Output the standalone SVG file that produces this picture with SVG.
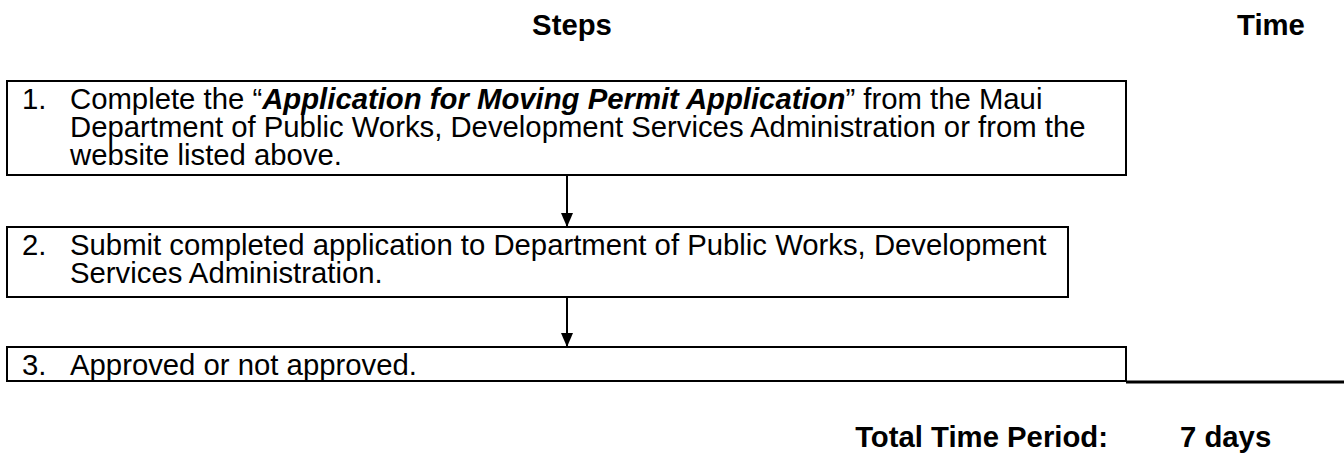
<svg xmlns="http://www.w3.org/2000/svg" width="1344" height="454" viewBox="0 0 1344 454">
<style>
.t{font-family:"Liberation Sans",Arial,sans-serif;font-size:29.3px;fill:#000}
.b{font-weight:bold}
.bi{font-weight:bold;font-style:italic}
.box{fill:#fff;stroke:#000;stroke-width:2}
.con{stroke:#000;stroke-width:2;fill:none}
</style>
<defs>
<marker id="ah" markerWidth="14" markerHeight="12" refX="14" refY="6" orient="auto" markerUnits="userSpaceOnUse">
<path d="M0,0 L14,6 L0,12 Z" fill="#000"/>
</marker>
</defs>
<rect width="1344" height="454" fill="#fff"/>
<g id="headers">
<text class="t b" x="572" y="35" text-anchor="middle">Steps</text>
<text class="t b" x="1271" y="35" text-anchor="middle">Time</text>
</g>
<g id="step1">
<rect class="box" x="7" y="81" width="1119" height="94"/>
<text class="t" x="22" y="109">1.</text>
<text class="t" x="70" y="109">Complete the “<tspan class="bi">Application for Moving Permit Application</tspan>” from the Maui</text>
<text class="t" x="70" y="137">Department of Public Works, Development Services Administration or from the</text>
<text class="t" x="70" y="165">website listed above.</text>
</g>
<g id="step2">
<rect class="box" x="7" y="227" width="1061" height="70"/>
<text class="t" x="22" y="255">2.</text>
<text class="t" x="70" y="255">Submit completed application to Department of Public Works, Development</text>
<text class="t" x="70" y="283">Services Administration.</text>
</g>
<g id="step3">
<rect class="box" x="7" y="347" width="1119" height="34"/>
<text class="t" x="22" y="375">3.</text>
<text class="t" x="70" y="375">Approved or not approved.</text>
</g>
<g id="connectors">
<line class="con" x1="567" y1="175" x2="567" y2="227" marker-end="url(#ah)"/>
<line class="con" x1="567" y1="297" x2="567" y2="347" marker-end="url(#ah)"/>
<line x1="1126" y1="382" x2="1344" y2="382" stroke="#000" stroke-width="3"/>
</g>
<g id="total">
<text class="t b" x="1108" y="447" text-anchor="end">Total Time Period:</text>
<text class="t b" x="1180" y="447">7 days</text>
</g>
</svg>
